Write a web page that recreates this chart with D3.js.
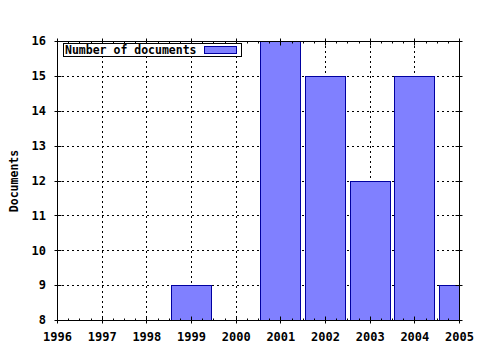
<!DOCTYPE html>
<html>
<head>
<meta charset="utf-8">
<script src="https://cdn.jsdelivr.net/npm/d3@7"></script>
<style>
body { margin: 0; background: #fff; }
text { font-family: "DejaVu Sans Mono", monospace; font-weight: bold; font-size: 11.5px; fill: #000; }
.tick text { font-size: 12px; }
</style>
</head>
<body>
<div id="chart"></div>
<script>
// data
const years = [1999, 2001, 2002, 2003, 2004, 2005];
const docs = [9, 16, 15, 12, 15, 9];
const yearTicks = [1996, 1997, 1998, 1999, 2000, 2001, 2002, 2003, 2004, 2005];
const docTicks = [8, 9, 10, 11, 12, 13, 14, 15, 16];
const seriesName = "Number of documents";

const width = 480, height = 350;
const margin = {top: 41, right: 21, bottom: 30, left: 57};

let svg = d3.select("#chart").append("svg")
  .attr("width", width)
  .attr("height", height);

let x = d3.scaleLinear().domain([1996, 2005]).range([margin.left, width - margin.right]);
let y = d3.scaleLinear().domain([8, 16]).range([height - margin.bottom, margin.top]);

// grid
svg.append("g").selectAll("line.vg")
  .data(yearTicks.slice(1, -1))
  .enter().append("line")
  .attr("x1", d => Math.round(x(d)) + 0.5).attr("x2", d => Math.round(x(d)) + 0.5)
  .attr("y1", y(16)).attr("y2", y(8))
  .attr("stroke", "#000").attr("stroke-dasharray", "2,3");

svg.append("g").selectAll("line.hg")
  .data(docTicks.slice(1, -1))
  .enter().append("line")
  .attr("x1", x(1996)).attr("x2", x(2005))
  .attr("y1", d => Math.round(y(d)) + 0.5).attr("y2", d => Math.round(y(d)) + 0.5)
  .attr("stroke", "#000").attr("stroke-dasharray", "2,3");

// bars
svg.append("clipPath").attr("id", "plot")
  .append("rect")
  .attr("x", x(1996)).attr("y", y(16))
  .attr("width", x(2005) - x(1996)).attr("height", y(8) - y(16));

let step = x(1997) - x(1996);
let barW = step * 0.9;

svg.append("g").attr("clip-path", "url(#plot)")
  .selectAll("rect.bar")
  .data(years)
  .enter().append("rect")
  .attr("class", "bar")
  .attr("x", d => Math.round(x(d) - barW / 2) + 0.5)
  .attr("width", Math.round(barW))
  .attr("y", (d, i) => Math.round(y(docs[i])) + 0.5)
  .attr("height", (d, i) => Math.round(y(8) - y(docs[i])))
  .attr("fill", "#8080ff")
  .attr("stroke", "#0000a0")
  .attr("stroke-width", 1);

// axes
let xBottom = d3.axisBottom(x).tickValues(yearTicks).tickFormat(d3.format("d")).tickSize(0);
let gx = svg.append("g")
  .attr("transform", `translate(0,${y(8)})`)
  .call(xBottom);
gx.select(".domain").remove();
gx.selectAll("text").attr("y", 12).attr("dy", "0.71em");

let yLeft = d3.axisLeft(y).tickValues(docTicks).tickSize(0).tickPadding(11);
let gy = svg.append("g")
  .attr("transform", `translate(${x(1996)},0)`)
  .call(yLeft);
gy.select(".domain").remove();

// frame
let fr = svg.append("g").attr("stroke", "#000").attr("fill", "none");
let L = Math.round(x(1996)) + 0.5, R = Math.round(x(2005)) + 0.5;
let T = Math.round(y(16)) + 0.5, B = Math.round(y(8)) + 0.5;
fr.append("line").attr("x1", L).attr("x2", R).attr("y1", B).attr("y2", B);
fr.append("line").attr("x1", L).attr("x2", R).attr("y1", T).attr("y2", T);
fr.append("line").attr("x1", L).attr("x2", L).attr("y1", T).attr("y2", B);
fr.append("line").attr("x1", R).attr("x2", R).attr("y1", T).attr("y2", B);

// ticks: majors and quarter-year minors
let minorYears = d3.range(0, (2005 - 1996) * 4 + 1).map(i => 1996 + i / 4);
minorYears.forEach((d, i) => {
  let px = Math.round(x(d)) + 0.5;
  let major = i % 4 === 0;
  fr.append("line").attr("x1", px).attr("x2", px)
    .attr("y1", B + (major ? 3 : 0)).attr("y2", B - (major ? 4 : 2));
  fr.append("line").attr("x1", px).attr("x2", px)
    .attr("y1", T - (major ? 3 : 0)).attr("y2", T + (major ? 4 : 2));
});
docTicks.forEach(d => {
  let py = Math.round(y(d)) + 0.5;
  fr.append("line").attr("x1", L - 3).attr("x2", L + 4).attr("y1", py).attr("y2", py);
  fr.append("line").attr("x1", R - 4).attr("x2", R + 3).attr("y1", py).attr("y2", py);
});

// y label
svg.append("text")
  .attr("transform", `translate(18,${(T + B) / 2}) rotate(-90)`)
  .attr("text-anchor", "middle")
  .text("Documents");

// legend
let lg = svg.append("g");
lg.append("rect")
  .attr("x", 63.5).attr("y", 43.5).attr("width", 178).attr("height", 13)
  .attr("fill", "#fff").attr("stroke", "#000");
lg.append("text").attr("x", 65).attr("y", 54).text(seriesName);
lg.append("rect")
  .attr("x", 204.5).attr("y", 46.5).attr("width", 32).attr("height", 7)
  .attr("fill", "#8080ff").attr("stroke", "#0000a0");
</script>
</body>
</html>
